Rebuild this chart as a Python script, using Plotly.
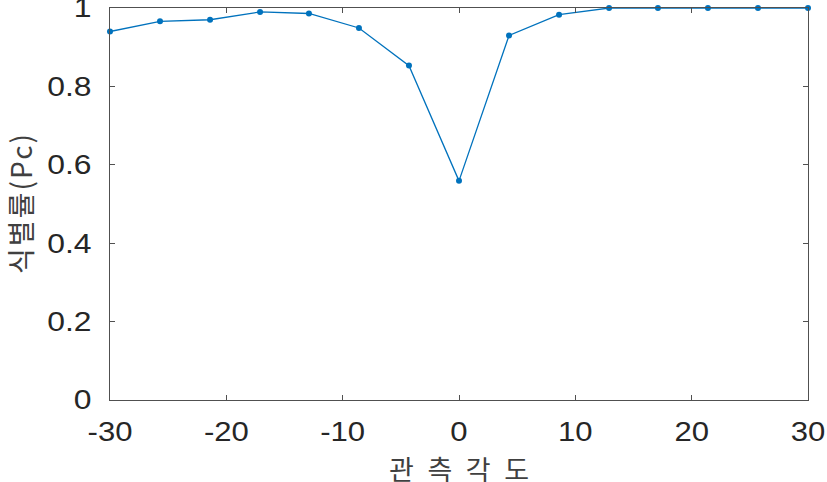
import plotly.graph_objects as go

angles = [-30, -25.7, -21.4, -17.1, -12.9, -8.6, -4.3, 0, 4.3, 8.6, 12.9, 17.1, 21.4, 25.7, 30]
pc = [0.940, 0.966, 0.970, 0.990, 0.986, 0.949, 0.853, 0.559, 0.930, 0.983, 1.0, 1.0, 1.0, 1.0, 1.0]
x_ticks = [-30, -20, -10, 0, 10, 20, 30]
x_tick_text = ["-30", "-20", "-10", "0", "10", "20", "30"]
y_ticks = [0, 0.2, 0.4, 0.6, 0.8, 1]
y_tick_text = ["0", "0.2", "0.4", "0.6", "0.8", "1"]
x_title = "관측각도"
y_title = "식별률(Pc)"

fig = go.Figure()
fig.add_trace(go.Scatter(
    x=angles, y=pc, mode="lines+markers",
    line=dict(color="#0072BD", width=1.3),
    marker=dict(color="#0072BD", size=6),
    cliponaxis=False, showlegend=False,
))

axis_common = dict(
    showgrid=False, zeroline=False, showline=True, linecolor="#505050", linewidth=1.2,
    mirror="ticks", ticks="inside", ticklen=5, tickwidth=1, tickcolor="#505050",
    ticklabeloverflow="allow",
    tickfont=dict(family="Liberation Sans, Arial, sans-serif", size=27, color="#262626"),
)
fig.update_xaxes(range=[-30, 30], tickvals=x_ticks, ticktext=x_tick_text, ticklabelstandoff=7,
                 title=dict(text=x_title, standoff=20,
                            font=dict(family="Noto Sans CJK KR, sans-serif", size=27, color="#404040")),
                 **axis_common)
fig.update_yaxes(range=[0, 1], tickvals=y_ticks, ticktext=y_tick_text, ticklabelstandoff=12,
                 title=dict(text=y_title, standoff=20,
                            font=dict(family="Noto Sans CJK KR, sans-serif", size=28, color="#404040")),
                 **axis_common)
fig.update_layout(
    width=827, height=482,
    margin=dict(l=110, r=19, t=8, b=82, autoexpand=False),
    plot_bgcolor="white", paper_bgcolor="white",
)

post = """
document.body.style.margin = '0';
var gd = document.getElementById('{plot_id}');
function fitText(sel, factor, mode, target, dy) {
  gd.querySelectorAll(sel).forEach(function (t) {
    if (!t.dataset.w0) {
      t.dataset.w0 = t.getComputedTextLength();
      if (dy) { t.setAttribute('y', parseFloat(t.getAttribute('y') || 0) + dy); }
    }
    var w = target ? target : parseFloat(t.dataset.w0) * factor;
    t.setAttribute('textLength', w);
    t.setAttribute('lengthAdjust', mode);
  });
}
function stretchAll() {
  fitText('.xtick text', 1.15, 'spacingAndGlyphs');
  fitText('.ytick text', 1.18, 'spacingAndGlyphs');
  fitText('text.xtitle', 0, 'spacing', 140, 6);
  fitText('text.ytitle', 0, 'spacing', 140);
}
stretchAll();
if (gd.on) { gd.on('plotly_afterplot', stretchAll); }
"""
fig.write_html("out.html", post_script=post, config={"displayModeBar": False})
